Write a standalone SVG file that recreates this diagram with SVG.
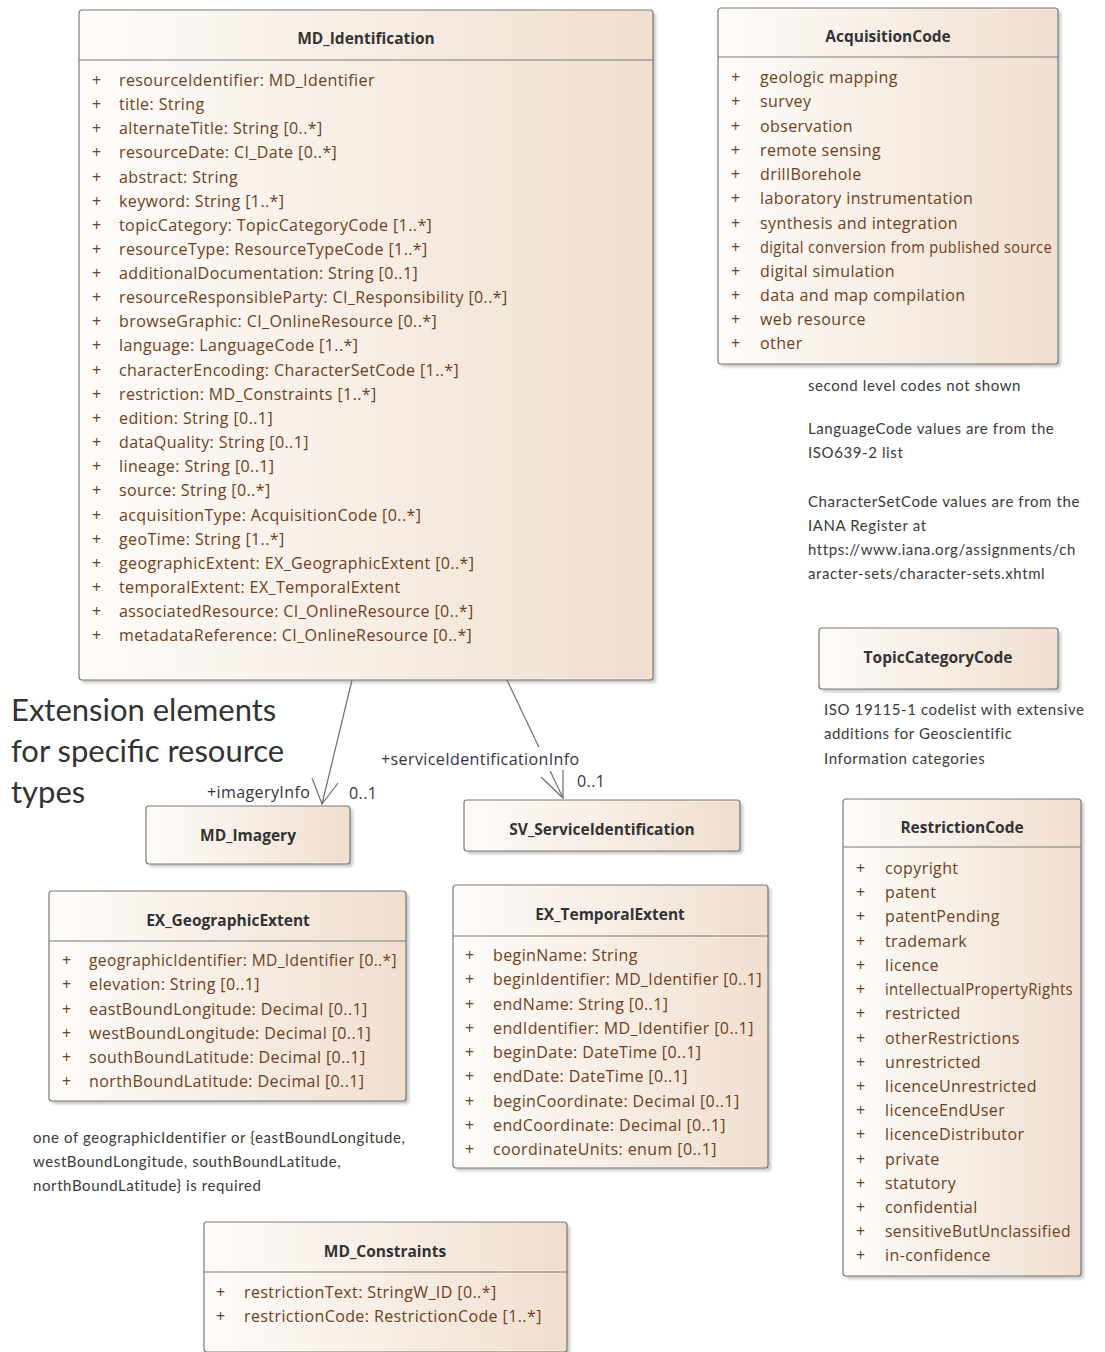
<svg xmlns="http://www.w3.org/2000/svg" width="1105" height="1352" viewBox="0 0 1105 1352">
<defs>
<linearGradient id="g" x1="0" y1="0" x2="1" y2="0">
<stop offset="0" stop-color="#fefcfa"/>
<stop offset="1" stop-color="#f0dfcf"/>
</linearGradient>
<filter id="sh" x="-5%" y="-5%" width="110%" height="110%"><feGaussianBlur stdDeviation="1.5"/></filter>
</defs>
<style>
.box{fill:url(#g);stroke:#7a7a7a;stroke-width:1.2}
.shd{fill:#9a9a9a;opacity:.55;filter:url(#sh)}
.sep{stroke:#7a7a7a;stroke-width:1.2}
.hd{font-family:"Open Sans",Lato,sans-serif;font-size:15.5px;font-weight:bold;fill:#333;text-anchor:middle}
.at{font-family:"Open Sans",Lato,sans-serif;font-size:16px;letter-spacing:0.4px;fill:#6e4020}
.nt{font-family:Lato,"Open Sans",sans-serif;font-size:15px;letter-spacing:0.6px;fill:#3a3a3a}
.big{font-family:Lato,"Open Sans",sans-serif;font-size:31px;fill:#333}
.ln{stroke:#6e6e6e;stroke-width:1.2;fill:none}
.lb{font-family:"Open Sans",Lato,sans-serif;font-size:16px;letter-spacing:0.4px;fill:#334}
</style>
<rect width="1105" height="1352" fill="#fff"/>

<g id="MD_Identification">
<rect class="shd" x="82" y="13" width="574" height="670" rx="3"/>
<rect class="box" x="79" y="10" width="574" height="670" rx="3"/>
<line class="sep" x1="79" y1="60" x2="653" y2="60"/>
<text class="hd" x="366" y="44">MD_Identification</text>
<g class="at" transform="translate(0,1)">
<text x="92" y="85">+</text><text x="119" y="85">resourceIdentifier: MD_Identifier</text>
<text x="92" y="109">+</text><text x="119" y="109">title: String</text>
<text x="92" y="133">+</text><text x="119" y="133">alternateTitle: String [0..*]</text>
<text x="92" y="157">+</text><text x="119" y="157">resourceDate: CI_Date [0..*]</text>
<text x="92" y="182">+</text><text x="119" y="182">abstract: String</text>
<text x="92" y="206">+</text><text x="119" y="206">keyword: String [1..*]</text>
<text x="92" y="230">+</text><text x="119" y="230">topicCategory: TopicCategoryCode [1..*]</text>
<text x="92" y="254">+</text><text x="119" y="254">resourceType: ResourceTypeCode [1..*]</text>
<text x="92" y="278">+</text><text x="119" y="278">additionalDocumentation: String [0..1]</text>
<text x="92" y="302">+</text><text x="119" y="302">resourceResponsibleParty: CI_Responsibility [0..*]</text>
<text x="92" y="326">+</text><text x="119" y="326">browseGraphic: CI_OnlineResource [0..*]</text>
<text x="92" y="350">+</text><text x="119" y="350">language: LanguageCode [1..*]</text>
<text x="92" y="375">+</text><text x="119" y="375">characterEncoding: CharacterSetCode [1..*]</text>
<text x="92" y="399">+</text><text x="119" y="399">restriction: MD_Constraints [1..*]</text>
<text x="92" y="423">+</text><text x="119" y="423">edition: String [0..1]</text>
<text x="92" y="447">+</text><text x="119" y="447">dataQuality: String [0..1]</text>
<text x="92" y="471">+</text><text x="119" y="471">lineage: String [0..1]</text>
<text x="92" y="495">+</text><text x="119" y="495">source: String [0..*]</text>
<text x="92" y="520">+</text><text x="119" y="520">acquisitionType: AcquisitionCode [0..*]</text>
<text x="92" y="544">+</text><text x="119" y="544">geoTime: String [1..*]</text>
<text x="92" y="568">+</text><text x="119" y="568">geographicExtent: EX_GeographicExtent [0..*]</text>
<text x="92" y="592">+</text><text x="119" y="592">temporalExtent: EX_TemporalExtent</text>
<text x="92" y="616">+</text><text x="119" y="616">associatedResource: CI_OnlineResource [0..*]</text>
<text x="92" y="640">+</text><text x="119" y="640">metadataReference: CI_OnlineResource [0..*]</text>
</g>
</g>

<g id="AcquisitionCode">
<rect class="shd" x="721" y="11" width="340" height="356" rx="3"/>
<rect class="box" x="718" y="8" width="340" height="356" rx="3"/>
<line class="sep" x1="718" y1="57" x2="1058" y2="57"/>
<text class="hd" x="888" y="42">AcquisitionCode</text>
<g class="at" transform="translate(0,1)">
<text x="731" y="82">+</text><text x="760" y="82">geologic mapping</text>
<text x="731" y="106">+</text><text x="760" y="106">survey</text>
<text x="731" y="131">+</text><text x="760" y="131">observation</text>
<text x="731" y="155">+</text><text x="760" y="155">remote sensing</text>
<text x="731" y="179">+</text><text x="760" y="179">drillBorehole</text>
<text x="731" y="203">+</text><text x="760" y="203">laboratory instrumentation</text>
<text x="731" y="228">+</text><text x="760" y="228">synthesis and integration</text>
<text x="731" y="252">+</text><text x="760" y="252" textLength="292" lengthAdjust="spacingAndGlyphs">digital conversion from published source</text>
<text x="731" y="276">+</text><text x="760" y="276">digital simulation</text>
<text x="731" y="300">+</text><text x="760" y="300">data and map compilation</text>
<text x="731" y="324">+</text><text x="760" y="324">web resource</text>
<text x="731" y="348">+</text><text x="760" y="348">other</text>
</g>
</g>

<g id="notes-right" class="nt">
<text x="808" y="391">second level codes not shown</text>
<text x="808" y="434">LanguageCode values are from the</text>
<text x="808" y="458">ISO639-2 list</text>
<text x="808" y="507">CharacterSetCode values are from the</text>
<text x="808" y="531">IANA Register at</text>
<text x="808" y="555">https://www.iana.org/assignments/ch</text>
<text x="808" y="579">aracter-sets/character-sets.xhtml</text>
</g>

<g id="TopicCategoryCode">
<rect class="shd" x="822" y="631" width="239" height="61" rx="3"/>
<rect class="box" x="819" y="628" width="239" height="61" rx="3"/>
<text class="hd" x="938" y="663">TopicCategoryCode</text>
</g>

<g id="note-topic" class="nt">
<text x="824" y="715">ISO 19115-1 codelist with extensive</text>
<text x="824" y="739">additions for Geoscientific</text>
<text x="824" y="764">Information categories</text>
</g>

<g id="RestrictionCode">
<rect class="shd" x="846" y="802" width="238" height="477" rx="3"/>
<rect class="box" x="843" y="799" width="238" height="477" rx="3"/>
<line class="sep" x1="843" y1="847" x2="1081" y2="847"/>
<text class="hd" x="962" y="833">RestrictionCode</text>
<g class="at" transform="translate(0,1)">
<text x="856" y="873">+</text><text x="885" y="873">copyright</text>
<text x="856" y="897">+</text><text x="885" y="897">patent</text>
<text x="856" y="921">+</text><text x="885" y="921">patentPending</text>
<text x="856" y="946">+</text><text x="885" y="946">trademark</text>
<text x="856" y="970">+</text><text x="885" y="970">licence</text>
<text x="856" y="994">+</text><text x="885" y="994" textLength="188" lengthAdjust="spacingAndGlyphs">intellectualPropertyRights</text>
<text x="856" y="1018">+</text><text x="885" y="1018">restricted</text>
<text x="856" y="1043">+</text><text x="885" y="1043">otherRestrictions</text>
<text x="856" y="1067">+</text><text x="885" y="1067">unrestricted</text>
<text x="856" y="1091">+</text><text x="885" y="1091">licenceUnrestricted</text>
<text x="856" y="1115">+</text><text x="885" y="1115">licenceEndUser</text>
<text x="856" y="1139">+</text><text x="885" y="1139">licenceDistributor</text>
<text x="856" y="1164">+</text><text x="885" y="1164">private</text>
<text x="856" y="1188">+</text><text x="885" y="1188">statutory</text>
<text x="856" y="1212">+</text><text x="885" y="1212">confidential</text>
<text x="856" y="1236">+</text><text x="885" y="1236" textLength="186" lengthAdjust="spacingAndGlyphs">sensitiveButUnclassified</text>
<text x="856" y="1260">+</text><text x="885" y="1260">in-confidence</text>
</g>
</g>

<g id="extension-note" class="big">
<text x="11" y="721">Extension elements</text>
<text x="11" y="762">for specific resource</text>
<text x="11" y="803">types</text>
</g>

<g id="MD_Imagery">
<rect class="shd" x="149" y="809" width="204" height="58" rx="3"/>
<rect class="box" x="146" y="806" width="204" height="58" rx="3"/>
<text class="hd" x="248" y="841">MD_Imagery</text>
</g>

<g id="SV_ServiceIdentification">
<rect class="shd" x="467" y="803" width="276" height="51" rx="3"/>
<rect class="box" x="464" y="800" width="276" height="51" rx="3"/>
<text class="hd" x="602" y="835">SV_ServiceIdentification</text>
</g>

<g id="connectors">
<line class="ln" x1="352" y1="680" x2="322" y2="804"/>
<polyline class="ln" points="312,778 322,804 338,783"/>
<line class="ln" x1="507" y1="680" x2="563" y2="798"/>
<rect x="380" y="747" width="203" height="24" fill="#fff"/>
<polyline class="ln" points="541,777 563,798 563,770"/>
<text class="lb" x="207" y="798">+imageryInfo</text>
<text class="lb" x="349" y="799">0..1</text>
<text class="lb" x="381" y="765">+serviceIdentificationInfo</text>
<text class="lb" x="577" y="787">0..1</text>
</g>

<g id="EX_GeographicExtent">
<rect class="shd" x="52" y="894" width="357" height="210" rx="3"/>
<rect class="box" x="49" y="891" width="357" height="210" rx="3"/>
<line class="sep" x1="49" y1="941" x2="406" y2="941"/>
<text class="hd" x="228" y="926">EX_GeographicExtent</text>
<g class="at" transform="translate(0,1)">
<text x="62" y="965">+</text><text x="89" y="965" textLength="308" lengthAdjust="spacingAndGlyphs">geographicIdentifier: MD_Identifier [0..*]</text>
<text x="62" y="989">+</text><text x="89" y="989">elevation: String [0..1]</text>
<text x="62" y="1014">+</text><text x="89" y="1014">eastBoundLongitude: Decimal [0..1]</text>
<text x="62" y="1038">+</text><text x="89" y="1038">westBoundLongitude: Decimal [0..1]</text>
<text x="62" y="1062">+</text><text x="89" y="1062">southBoundLatitude: Decimal [0..1]</text>
<text x="62" y="1086">+</text><text x="89" y="1086">northBoundLatitude: Decimal [0..1]</text>
</g>
</g>

<g id="EX_TemporalExtent">
<rect class="shd" x="456" y="888" width="315" height="283" rx="3"/>
<rect class="box" x="453" y="885" width="315" height="283" rx="3"/>
<line class="sep" x1="453" y1="936" x2="768" y2="936"/>
<text class="hd" x="610" y="920">EX_TemporalExtent</text>
<g class="at" transform="translate(0,1)">
<text x="465" y="960">+</text><text x="493" y="960">beginName: String</text>
<text x="465" y="984">+</text><text x="493" y="984" textLength="269" lengthAdjust="spacingAndGlyphs">beginIdentifier: MD_Identifier [0..1]</text>
<text x="465" y="1009">+</text><text x="493" y="1009">endName: String [0..1]</text>
<text x="465" y="1033">+</text><text x="493" y="1033">endIdentifier: MD_Identifier [0..1]</text>
<text x="465" y="1057">+</text><text x="493" y="1057">beginDate: DateTime [0..1]</text>
<text x="465" y="1081">+</text><text x="493" y="1081">endDate: DateTime [0..1]</text>
<text x="465" y="1106">+</text><text x="493" y="1106">beginCoordinate: Decimal [0..1]</text>
<text x="465" y="1130">+</text><text x="493" y="1130">endCoordinate: Decimal [0..1]</text>
<text x="465" y="1154">+</text><text x="493" y="1154">coordinateUnits: enum [0..1]</text>
</g>
</g>

<g id="note-geo" class="nt">
<text x="33" y="1143">one of geographicIdentifier or {eastBoundLongitude,</text>
<text x="33" y="1167">westBoundLongitude, southBoundLatitude,</text>
<text x="33" y="1191">northBoundLatitude} is required</text>
</g>

<g id="MD_Constraints">
<rect class="shd" x="207" y="1225" width="363" height="130" rx="3"/>
<rect class="box" x="204" y="1222" width="363" height="130" rx="3"/>
<line class="sep" x1="204" y1="1272" x2="567" y2="1272"/>
<text class="hd" x="385" y="1257">MD_Constraints</text>
<g class="at" transform="translate(0,1)">
<text x="216" y="1297">+</text><text x="244" y="1297">restrictionText: StringW_ID [0..*]</text>
<text x="216" y="1321">+</text><text x="244" y="1321">restrictionCode: RestrictionCode [1..*]</text>
</g>
</g>
</svg>
